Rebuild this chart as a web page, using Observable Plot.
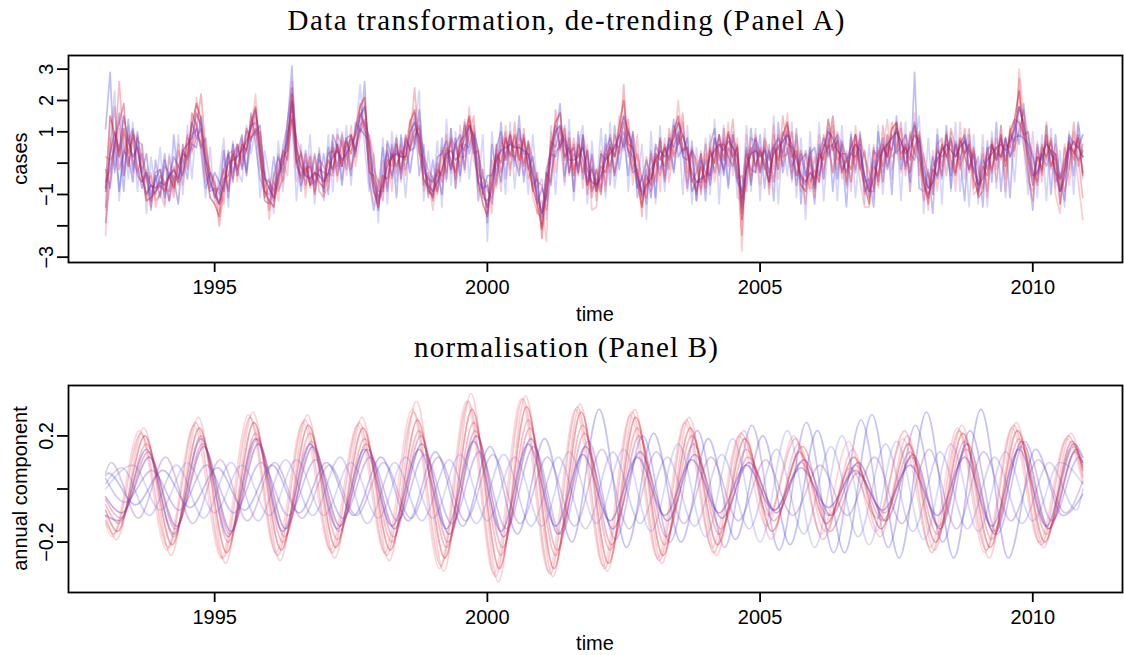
<!DOCTYPE html>
<html><head><meta charset="utf-8">
<script src="https://cdn.jsdelivr.net/npm/d3@7"></script>
<script src="https://cdn.jsdelivr.net/npm/@observablehq/plot@0.6"></script>
<style>
body{margin:0;background:#fff;}
#wrap{position:relative;width:1124px;height:655px;overflow:hidden;background:#fff;}
#wrap > svg, #wrap > div{position:absolute;left:0;}
#overlay{position:absolute;left:0;top:0;pointer-events:none;}
</style>
</head><body>
<div id="wrap"></div>
<script>
// ---------- Panel A: de-trended cases (monthly, from Jan 1993) ----------
const startYear = 1993;
const aR1 = [
-.8,1.5,.9,.2,1.1,.3,.9,.5,-.4,-1.2,-1.1,-.9,
-.7,-.9,-.4,-.8,-.1,.3,.2,1.2,1.9,1.4,-.1,-1.1,
-1.3,-1.7,-.5,-.4,.3,-.2,.6,.4,1.3,1.8,.3,-.9,
-1.2,-1.4,-.3,.2,.4,2.2,.1,-.5,-.1,-.7,-.3,-.6,
-.8,.1,-.2,.6,-.1,.7,.3,1.1,1.8,2.1,.2,-.9,
-1.4,-.4,-.5,.3,-.1,.4,.1,1.3,1.7,.4,-.5,-.8,
-1.1,-.2,-.4,.5,.1,-.3,.7,.9,1.5,.5,-.6,-1.3,
-1.7,-.4,.3,0,.8,.2,.9,.1,.8,-.1,-.8,-1.3,
-2.1,-.6,.5,1.3,1.6,.2,.5,-.4,.6,.1,-.7,-.2,
-.9,-.1,-.3,.5,.2,1.2,2.0,.6,.5,-.6,-1.4,-.4,
-.7,.3,.1,.5,.1,1.0,1.5,.4,.5,-.5,-.9,-.1,
-.6,.4,0,.9,.1,1.0,.2,.5,-1.8,-.1,.5,-.1,
.4,-.1,-.6,.5,.1,.9,1.3,.2,.4,-.7,-.9,.2,
-.8,.3,.1,1.4,.4,.7,-.3,.1,-.2,.9,-.1,-.7,
-1.3,-.1,-.4,.6,.2,1.1,1.3,.3,.5,.1,1.2,.3,
-.7,-1.1,-.2,-.4,.6,.2,.7,-.3,.8,.3,.6,-.5,
-1.0,-.1,-.4,.6,.1,.9,-.1,1.0,1.4,2.3,.9,.1,
-.7,.2,-.2,.9,-.1,.3,-1.3,-.1,.7,.3,.8,-.3];
const aR2 = [
-1.4,.4,1.8,-.2,.3,.9,.1,-.3,.3,-.5,-1.4,-.3,
-.2,-.8,-.9,-.1,-.7,-.3,.8,.6,1.1,2.2,.5,-.4,
-.6,-2.0,-.9,.2,-.5,.5,-.1,1.0,.7,1.5,.9,-.2,
-1.5,-.6,-.9,-.5,1.0,1.4,.8,.3,-.7,0,-.9,.1,
-.1,-.6,.5,-.1,.7,-.2,.9,.4,1.0,1.3,.8,-.2,
-.6,-1.2,.3,-.5,.6,-.3,.7,.5,.9,1.1,.3,-1.1,
-.4,-1.0,.4,-.3,.8,.5,-.1,1.3,.6,1.2,.3,-.4,
-.9,-1.1,-.5,.8,.1,1.0,.2,.9,0,.7,.1,-.6,
-.7,-1.5,-.4,.4,.5,1.1,-.3,.6,-.4,.9,.2,-1.1,
-.2,-.8,.6,-.3,.9,.3,.7,1.4,-.2,.3,-.5,-1.1,
.3,-.6,.7,-.4,.8,.2,.6,1.3,-.3,.4,.1,-1.0,
.3,-.5,.8,.1,.7,-.1,.9,-.5,-.4,-.9,.8,.7,
-.3,.8,.3,-.2,.9,.2,.3,1.0,-.4,.4,-.2,-.8,
.2,-.6,.9,.3,1.2,-.2,.6,-.6,.8,.1,.8,.2,
-.3,-.8,.5,-.1,.9,.2,.4,1.1,-.2,1.0,.3,1.0,
.2,-.4,-1.0,.5,-.1,.9,-.2,.6,-.2,1.1,-.3,.4,
-.2,-.8,.5,-.3,.8,.1,.8,.2,.5,1.0,1.7,.8,
.3,-.7,.6,.1,.8,-.6,-.3,-.9,-.2,1.0,-.1,.6];
const aR3 = [
.2,.1,.4,2.6,.5,-.1,1.0,.7,.6,-.6,-.4,-1.2,
-1.0,-.1,-.3,-1.1,.4,-.3,.9,.4,.8,.7,.1,-.2,
-.9,-.8,-1.3,.3,.4,-.4,.7,.3,1.5,.9,1.0,-.8,
-.5,-1.1,.3,-.6,.3,2.6,.6,-.3,.3,-.8,.2,-.9,
-1.1,-.3,-.4,.9,.6,.1,.9,.3,1.9,1.0,.9,.2,
-1.3,.1,-.8,.5,-.3,.6,-.4,.8,2.4,.3,.2,-.2,
-.5,-.9,-.2,.9,-.3,.6,.2,.2,.9,1.5,-.9,-.6,
-1.6,.1,-.7,.5,1.0,-.4,1.3,-.2,1.1,-.5,-.1,-1.6,
-1.7,-.3,-.6,1.7,.4,1.2,-.4,.8,-.3,.8,-1.0,.2,
-1.2,.4,-.7,.9,-.3,.4,2.5,.2,1.0,.1,-1.7,.2,
-.9,-.4,.8,-.5,1.1,.3,.7,1.6,-.6,.5,-.1,-.8,
.6,-.4,.5,-.3,1.1,.2,1.4,-.3,-2.3,.4,-.4,.9,
-.2,.6,-1.0,.9,-.2,1.5,.4,-.3,.9,-.2,-1.3,.4,
-1.1,.5,-.2,.6,-.3,1.0,.5,-.7,.6,-.2,.9,-1.0,
-.5,.5,-.7,1.2,-.1,1.3,.5,1.3,-.4,.9,.3,.1,
-1.2,-.3,-.8,.6,.8,-.4,1.1,.5,-.1,.3,1.1,-.8,
-.4,.3,-.9,.7,-.2,1.2,-.5,1.1,.4,2.7,.6,-.4,
-1.2,.5,-.4,1.3,-.2,.6,-.9,.5,-.2,1.3,.2,-1.1];
const aR4 = [
-1.9,-.5,.7,1.3,1.9,-.1,.8,-.4,-.6,-.3,-.7,-1.0,
-.4,-.6,-1.2,-.4,-.6,.6,-.2,1.6,1.2,.5,.8,-.5,
-1.1,-.7,-.2,-.9,.2,.6,.1,1.1,.8,1.1,.1,-1.1,
-.7,-1.2,-.6,.4,.1,1.5,0,.3,-.4,.2,-1.0,-.1,
-.6,.3,.4,-.4,.3,.8,-.2,.5,1.2,1.4,-.3,-.4,
-.9,-.9,.1,-.1,.6,-.2,.8,.4,1.1,.9,-.7,-.3,
-1.2,0,-.6,.1,.7,-.5,.6,.4,1.4,.3,.4,-1.1,
-1.2,-.9,.6,-.3,.3,.9,.1,.6,-.1,.6,-.9,-.3,
-2.4,-.8,.7,.5,1.1,.1,.8,-.2,.4,-.3,.4,-.9,
-.5,-1.0,.3,-.1,.6,.5,1.3,.4,-.3,-.2,-1.1,-.8,
-.2,.1,-.4,.6,-.2,1.2,.6,.9,.4,-.6,-.3,.3,
-.8,.5,-.3,.6,.6,.2,-.1,.6,-1.4,.3,-.2,-.3,
.5,-.2,.4,-.6,.6,-.1,1.2,.4,-.4,.1,.3,-.6,
-.2,-.6,.6,.5,1.5,.1,.3,.3,-.6,.6,-.2,.4,
-.9,-.9,.4,-.6,.6,.4,1.3,.1,.6,-.3,.5,.9,
-.5,-1.3,-.1,.2,-.4,.9,.1,-.4,.7,.2,-.2,.5,
-1.1,-.9,.3,-.2,.5,.2,.6,.5,1.4,1.3,.9,1.0,
-.2,-.6,.5,.2,.7,-.3,-.5,-.2,.6,.1,.9,-.4];
const aR5 = [
-2.3,.8,-.2,1.1,-.4,1.2,-.2,.9,.1,-1.1,-.3,-1.4,
-.9,-1.4,.2,-.7,.6,-.7,.6,.3,2.1,.8,-.6,-.3,
-.5,-1.5,.4,-.8,.6,-.6,.8,-.2,1.0,2.2,-.2,-.3,
-1.8,-.3,-1.2,.1,-.4,1.7,-.6,.4,-1.1,.3,-.4,.4,
-1.0,-.8,.6,-.6,1.0,-.4,1.2,-.1,.8,1.9,-.4,-1.3,
-.5,-.8,.6,-.9,.9,-.6,.5,1.4,.6,1.4,-.9,-.4,
-1.5,-.4,.5,-.6,1.1,-.8,1.2,-.3,1.8,.1,-.4,-.5,
-.6,-1.6,.4,-.9,1.2,-.2,.7,.3,-.4,.5,-1.1,-1.6,
-1.2,-2.5,1.2,-.3,.7,-.6,1.0,-.9,.9,-.8,.6,-1.5,
-1.4,.3,-.9,.6,-.4,1.5,.4,1.1,-.7,.9,-1.3,-.5,
-.6,.5,-.9,.8,-.6,.5,2.0,.3,-.9,.3,-1.2,.4,
-.9,.9,-.6,.4,-.3,1.3,-.4,.8,-2.8,.9,-.6,.5,
-.7,.7,-.8,1.2,-.5,.4,1.6,-.6,.7,-.9,-.3,-.9,
-.6,.9,-.5,.8,-.3,.5,-.5,.4,-.9,1.2,-.6,-1.4,
-1.4,.6,-.8,.4,1.4,-.2,.6,-.3,.9,-.9,1.6,-.4,
.3,-1.5,.4,-.9,.7,.1,1.0,-.9,1.3,-.5,.7,-1.0,
-.8,.5,-1.1,.8,-.6,.7,-.9,1.2,.2,3.0,1.4,-.6,
-.9,.7,-.6,.4,.6,-1.0,-1.6,.6,-.7,.5,-.6,-1.8];
const aB1 = [
1.1,2.9,-.3,.6,-.9,1.4,-.3,.8,-.6,-.2,-1.5,.1,
-.8,.3,-1.2,.9,-.6,.2,-.5,.9,1.1,.5,-.8,-.3,
-.7,-1.0,.4,-1.1,.6,-.4,.5,-.3,1.6,.6,-.5,-.9,
-1.0,.2,-.8,.5,1.2,3.1,.2,-.9,.4,-.6,.3,-.5,
.3,-1.0,.7,-.2,.9,.3,-.4,1.3,1.0,2.6,-.6,-1.5,
-.8,.5,-.9,.6,-1.1,.9,-.2,.5,1.6,-.4,.6,-1.0,
.1,-.9,.8,-.5,1.1,-.8,.5,1.2,.3,.8,-1.2,-.2,
-1.9,.6,-.4,1.3,-.5,.9,-.1,1.5,-.6,.7,-.3,-.9,
-1.6,-.3,-.7,.8,1.9,-.4,.6,-.9,1.0,-.5,.4,-.8,
-.2,-.9,.9,-.7,1.2,-.2,.8,-.4,1.0,-1.1,-.4,-1.3,
.4,-1.1,.8,-.6,.3,1.4,.2,.5,-.8,.7,-1.0,.3,
-1.2,.6,1.1,-.4,.8,-.8,.9,.3,-1.6,-.6,1.1,-.3,
.9,-.8,.6,-1.2,1.3,-.3,.5,-.5,1.1,-1.3,.4,-.1,
-1.3,.6,-.5,1.1,-.9,.8,.3,-1.4,.9,-.3,1.0,-.6,
-.5,-1.4,1.0,-.3,.7,-1.0,1.5,-.2,.6,-.6,2.9,-.8,
-.9,-.2,-1.6,.9,-.5,1.2,-.8,.7,.2,-1.2,.9,-.3,
.2,-1.4,.7,-.6,1.3,-.9,.8,-1.1,1.3,.6,1.9,-.2,
-1.5,.6,-.3,1.2,-1.0,.9,-.6,-1.2,.8,-.4,1.3,.2];
const aB2 = [
-.6,-.2,.7,-.9,.4,.2,-.6,1.0,-.3,.3,-1.0,-.5,
-.2,-1.1,-.3,-.5,-1.3,.4,.1,.6,.5,1.5,.3,-.8,
-.3,-.6,-.9,.4,-.3,.3,.9,-.4,.8,1.0,1.2,-.5,
-.6,-.9,-.1,.3,.8,1.9,-.1,-.4,.1,-.7,-.6,.3,
-.9,.5,-.3,.6,-.7,.5,.8,.4,1.1,.9,.7,-.6,
-1.5,-.3,.4,-.4,.4,.2,.6,-.3,.8,1.2,-.3,-.5,
-.6,-.3,-1.0,.4,-.2,.8,-.4,.6,.5,1.0,.4,-1.0,
-.4,-.4,.2,-.6,.8,.3,.2,-.4,.9,-.2,.2,-1.3,
-.8,-1.2,.3,.2,.7,.9,-.3,.3,-.1,.6,-.7,.3,
-.9,.3,.1,.6,-.4,.5,1.0,.4,.2,-.8,-.5,.1,
-.5,.2,-.2,.4,.6,-.3,.9,.3,.8,-.9,-.6,-.6,
.1,-.7,.2,.9,-.4,.5,.2,-.6,-.9,.5,-.7,.6,
-.3,.5,.1,.6,-.2,1.0,.6,.5,-.7,.3,-.4,.3,
.5,-.4,.3,.5,.6,-.5,.7,.1,.3,.2,.6,-.9,
-.7,.1,-.6,.5,.2,.9,.3,.6,.9,.3,.1,.8,
-.1,-.8,.2,-.5,.5,.3,-.4,.6,.1,.8,.4,.2,
-.7,.1,-.2,.5,.3,.2,.8,.2,.8,.9,.8,.6,
.2,-.4,.3,-.1,.4,.3,-.5,.1,.5,.4,.1,.4];
const aB3 = [
-1.5,.7,2.3,-1.2,.9,-.5,1.3,-.9,.6,-1.6,.2,-.9,
.5,-1.3,.3,-.9,.9,-1.0,1.2,-.5,1.3,.3,-1.1,.5,
-1.3,-.4,.8,-1.4,.7,-.2,-.6,1.2,.3,1.1,-1.1,.4,
-.4,-1.6,.7,-.9,.4,1.4,-1.2,.6,-.8,.9,-1.3,.5,
-1.2,.9,-.9,1.1,-.5,1.2,-.7,.9,2.5,.5,-.9,.3,
-1.9,.8,-1.3,1.0,-.6,.8,-1.1,.7,1.1,2.3,-1.2,.4,
-.9,.7,-1.4,1.4,-.7,1.0,-.6,1.4,-.5,.9,-.7,.9,
-2.5,1.0,-.8,.7,-1.0,1.3,-.8,.8,.6,-1.0,.9,-.8,
-.5,-1.8,1.0,-1.0,1.2,-.7,1.4,-1.2,.5,1.2,-1.3,.7,
-.8,1.1,-1.1,1.3,-.8,.3,1.6,-.9,.9,-.8,.6,-1.8,
1.0,-1.3,1.2,-.9,.9,-.2,1.3,-1.0,1.2,-1.3,.5,-.9,
.8,-1.0,1.4,-1.3,1.2,-.7,1.0,-1.1,-1.2,1.2,-.9,1.1,
-1.2,1.1,-.7,1.5,-1.3,.8,-.4,1.3,-1.1,.8,-1.8,1.0,
-.9,1.3,-1.2,.7,1.0,-1.2,1.2,-.8,1.0,-1.1,.6,-1.3,
.6,-1.1,1.2,-1.0,.9,-.5,1.1,-1.2,1.3,-.9,.5,1.5,
-1.6,.8,-1.0,1.1,-1.3,1.0,-.9,1.3,-.9,.7,-1.4,.9,
-1.3,.9,-1.4,1.0,-.8,1.2,-1.1,.8,-.6,1.4,.5,-1.0,
1.0,-1.1,.9,-1.2,1.1,-.8,.4,-1.4,1.0,-1.0,1.2,-.5];
const aB4 = [
-.2,-.8,.5,1.6,-.4,.7,1.1,-.1,-.8,-.3,-1.2,-.4,
-1.1,.1,-.5,.2,-.1,-.4,.3,1.3,.8,1.1,-.3,-.9,
-.8,-1.3,-.2,.3,-.6,.6,-.2,.5,1.2,1.3,.4,-1.2,
-1.3,-.4,.2,-.3,1.3,2.4,.5,-.7,-.2,-.1,-.7,-.2,
-.3,-.4,.9,.5,-.1,.8,.9,.2,1.6,1.2,-.1,-.9,
-1.2,-.9,.7,.1,.8,-.5,.9,.4,.5,1.7,.1,-.9,
-1.0,.2,.3,.7,-.2,.6,.9,-.2,1.2,.8,-.6,-.8,
-.7,-1.3,.5,1.0,.1,.7,.5,1.1,.3,.3,-.7,-.5,
-2.0,-.2,.4,1.2,.5,.8,.3,.5,-.3,.9,-.6,-.1,
-.7,-.5,.4,.8,.2,.9,.5,1.0,.6,-.4,-.9,-.2,
-1.1,.6,.2,-.1,.8,.5,1.0,.2,.1,.4,-1.2,.1,
-.3,-.4,.8,.3,-.2,.9,.5,-.3,-1.3,-.2,.3,.8,
.3,.1,-.6,.5,.8,.3,1.0,-.1,.3,-.5,-.7,.5,
-.7,.3,.8,.2,.6,.9,-.2,.1,.5,.9,.1,-.4,
-1.1,.4,.2,.8,-.2,.5,1.1,.7,-.1,.7,1.3,.4,
-.6,-1.0,-.6,.4,.2,.4,.8,.2,.6,.9,-.2,.3,
-.9,-.3,.4,.6,.1,.8,.1,.9,.7,1.8,1.1,.3,
-.5,.2,.1,.7,.3,.1,-.9,-.3,.9,.6,.5,.9];
const aB5 = [
-.9,.3,1.0,.4,1.5,.7,.2,.5,-.4,-1.0,-.7,-.8,
-.6,-.7,-.4,-.2,-.5,.4,.6,.8,1.6,1.2,.1,-.6,
-1.0,-1.3,-.7,0,.1,.2,.4,.7,1.1,1.7,.6,-.5,
-.8,-1.1,-.4,0,.7,2.0,.5,-.1,-.4,-.5,-.3,-.4,
-.6,-.3,.2,.4,.1,.3,.6,.9,1.5,1.8,.5,-.6,
-1.1,-.7,-.1,.2,.3,.2,.2,1.0,1.3,.8,-.1,-.7,
-.9,-.6,-.2,.3,.4,.1,.3,.8,1.2,.9,-.1,-.9,
-1.4,-.7,.1,.4,.5,.6,.5,.5,.4,.3,-.4,-1.1,
-1.6,-1.0,.3,1.0,1.2,.6,.1,.1,.2,.5,-.2,-.6,
-.7,-.4,.1,.3,.5,.9,1.5,1.0,.4,-.4,-1.0,-.7,
-.5,.1,.4,.2,.5,.8,1.3,.9,.3,-.3,-.6,-.5,
-.4,.2,.4,.6,.4,.7,.5,.2,-1.1,-.2,.3,.4,
.2,.4,-.3,.3,.5,.7,.9,.6,.1,-.4,-.6,-.3,
-.5,.1,.5,1.0,.8,.4,.2,-.3,.3,.6,.4,-.4,
-.9,-.5,.1,.4,.6,.8,1.0,.7,.3,.5,.9,.7,
-.4,-.8,-.6,.1,.4,.6,.4,.2,.5,.7,.3,-.2,
-.7,-.5,.1,.3,.5,.6,.4,.7,1.1,1.8,1.3,.5,
-.4,-.3,.3,.6,.4,-.3,-.9,-.5,.4,.7,.5,.2];

const aSeries = [aB3, aR5, aB1, aR2, aB2, aR3, aB4, aR4, aB5, aR1];
const aColors = ["#6a6af0", "#ee5565", "#4d4de6", "#e0303f", "#5548d8", "#e43c4c", "#6b3fcb", "#c8305a", "#7f2c9e", "#d4202f"];
const aOpac   = [0.28, 0.30, 0.36, 0.36, 0.42, 0.34, 0.42, 0.44, 0.50, 0.50];

// ---------- Panel B: annual component (extremes, alternating, half-year apart) ----------
const endTime = 2010.917;
const bR1 = [-.16,.20,-.21,.23,-.24,.25,-.23,.24,-.22,.23,-.23,.26,-.26,.30,-.30,.31,-.30,.29,-.28,.27,-.25,.23,-.21,.19,-.16,.14,-.13,.12,-.15,.17,-.20,.21,-.22,.22,-.20,.18];
const bR2 = [-.19,.23,-.25,.27,-.28,.29,-.27,.28,-.26,.27,-.27,.33,-.31,.36,-.35,.35,-.33,.32,-.31,.30,-.28,.27,-.25,.22,-.19,.17,-.16,.15,-.18,.20,-.23,.24,-.26,.25,-.22,.21];
const bR3 = [-.13,.17,-.18,.20,-.20,.21,-.20,.21,-.19,.19,-.20,.22,-.22,.25,-.25,.26,-.25,.24,-.23,.23,-.21,.20,-.17,.15,-.12,.10,-.10,.09,-.12,.14,-.17,.18,-.19,.19,-.17,.16];
const bR4 = [-.17,.21,-.22,.25,-.26,.27,-.25,.26,-.24,.25,-.25,.29,-.29,.33,-.33,.34,-.32,.31,-.30,.29,-.27,.26,-.24,.21,-.10,.19,-.19,.08,-.11,.22,-.24,.22,-.23,.24,-.21,.20];
const bR5 = [-.11,.14,-.15,.17,-.17,.19,-.18,.18,-.16,.17,-.18,.20,-.20,.22,-.22,.23,-.23,.21,-.21,.20,-.18,.17,-.15,.12,-.08,.16,-.16,.06,-.09,.12,-.14,.15,-.16,.16,-.15,.14];
const bR6 = [-.18,.22,-.23,.24,-.26,.28,-.24,.25,-.23,.24,-.24,.30,-.30,.33,-.32,.34,-.31,.30,-.29,.28,-.26,.25,-.22,.20,-.14,.20,-.17,.18,-.16,.19,-.22,.23,-.24,.23,-.20,.19];
const bB1 = [.06,-.06,.07,-.07,.08,-.08,.09,-.09,.10,-.10,.12,-.12,.14,-.14,.16,-.17,.19,-.20,.30,-.22,.21,-.20,.19,-.19,.20,-.21,.22,-.24,.28,-.26,.29,-.26,.30,-.26,.15,-.10];
const bB2 = [-.12,.15,-.17,.19,-.18,.19,-.16,.17,-.15,.15,-.14,.15,-.15,.18,-.16,.17,-.14,.13,-.12,.12,-.10,.11,-.09,.09,-.08,.08,-.07,.07,-.08,.09,-.10,.12,-.14,.15,-.14,.17];
const bB3 = [.08,-.10,.09,-.11,.10,-.12,.11,-.10,.12,-.13,.10,-.12,.11,-.13,.13,-.14,.12,-.15,.14,-.13,.12,-.14,.13,-.15,.15,-.17,.16,-.18,.17,-.16,.14,-.15,.12,-.13,.10,-.08];
const bB4 = [.09,-.08,.10,-.09,.09,-.10,.11,-.10,.10,-.11,.12,-.11,.13,-.12,.12,-.14,.14,-.13,.15,-.16,.17,-.18,.19,-.20,.22,-.22,.20,-.21,.18,-.19,.17,-.16,.14,-.12,.10];
const bB5 = [-.05,.07,-.08,.09,-.09,.10,-.10,.11,-.11,.12,-.12,.13,-.13,.14,-.15,.16,-.17,.18,-.19,.20,-.20,.22,-.22,.24,-.23,.25,-.24,.26,-.22,.24,-.20,.22,-.17,.18,-.12,.12];
const bP6 = [.10,-.11,.12,-.13,.11,-.12,.10,-.11,.09,-.10,.10,-.11,.12,-.12,.13,-.13,.12,-.14,.15,-.15,.14,-.13,.12,-.12,.11,-.10,.09,-.10,.12,-.13,.15,-.15,.14,-.12,.11,-.09];
const bP7 = [-.09,.12,-.14,.16,-.16,.17,-.15,.16,-.14,.15,-.15,.17,-.17,.20,-.18,.19,-.17,.16,-.15,.14,-.12,.13,-.11,.10,-.09,.11,-.10,.10,-.12,.13,-.15,.17,-.17,.18,-.15,.15];

const bSeries   = [bB4, bB3, bB5, bP6, bR5, bR2, bB1, bR6, bR3, bB2, bR4, bP7, bR1];
const bFirstExt = [1993.50, 1993.30, 1993.35, 1993.10, 1993.28, 1993.20, 1993.05, 1993.12, 1993.25, 1993.25, 1993.15, 1993.30, 1993.22];
const bStart    = [0, .02, .04, .06, -.04, -.10, .05, -.13, -.06, -.10, -.12, -.03, -.08];
const bEnd      = [.02, 0, .10, .03, .09, .05, -.02, .02, .08, .12, .04, .10, .07];
const bColors   = ["#8080f0", "#7070e8", "#6a4ad8", "#9050b0", "#c03070", "#ee5060", "#5a5ae8", "#f07080", "#e03848", "#6040d0", "#e84858", "#7a30a8", "#d8283c"];
const bOpac     = [0.30, 0.30, 0.32, 0.32, 0.32, 0.27, 0.36, 0.28, 0.32, 0.40, 0.30, 0.40, 0.42];

const xTicks = [1995, 2000, 2005, 2010];
const yTicksA = [-3, -2, -1, 0, 1, 2, 3];
const yLabelsA = [-3, -1, 1, 2, 3];
const yTicksB = [-0.2, 0, 0.2];
const yLabelsB = [-0.2, 0.2];

// ---------- build tables ----------
const dataA = aSeries.map((vals, i) => vals.map((v, m) => ({t: startYear + m / 12, v})));
const dataB = bSeries.map((ext, i) => {
  const pts = [{t: startYear, v: bStart[i]}];
  ext.forEach((v, k) => pts.push({t: bFirstExt[i] + 0.5 * k, v}));
  pts.push({t: endTime, v: bEnd[i]});
  return pts;
});

const fmtNum = d => (d < 0 ? "\u2212" : "") + Math.abs(d);
const sans = "'Liberation Sans', Arial, Helvetica, sans-serif";

function panel({series, colors, opac, width: sw, yDomain, yTicks, yLabels, height, marginTop, marginBottom, curve}) {
  return Plot.plot({
    width: 1124, height, marginLeft: 68, marginRight: 2, marginTop, marginBottom,
    x: {domain: [1992.32, 2011.645]},
    y: {domain: yDomain},
    style: {fontFamily: sans, fontSize: "20px", background: "white", color: "black"},
    marks: [
      ...series.map((d, i) => Plot.line(d, {x: "t", y: "v", stroke: colors[i], strokeOpacity: opac[i], strokeWidth: sw, curve})),
      Plot.frame({stroke: "black", strokeWidth: 1.8}),
      Plot.axisX({ticks: xTicks, tickSize: 10, tickPadding: 7, tickFormat: d => String(d), label: null, fontSize: 20, strokeWidth: 1.8}),
      Plot.axisY({ticks: yTicks, tickSize: 11, tickPadding: 5, tickRotate: -90, tickFormat: d => yLabels.includes(d) ? fmtNum(d) : "", label: null, fontSize: 20, strokeWidth: 1.8})
    ]
  });
}

const wrap = document.getElementById("wrap");
const svgA = panel({series: dataA, colors: aColors, opac: aOpac, width: 1.7, yDomain: [-3.17, 3.435], yTicks: yTicksA, yLabels: yLabelsA, height: 330, marginTop: 55, marginBottom: 68, curve: "linear"});
svgA.style.top = "0px";
wrap.appendChild(svgA);
const svgB = panel({series: dataB, colors: bColors, opac: bOpac, width: 1.6, yDomain: [-0.39, 0.39], yTicks: yTicksB, yLabels: yLabelsB, height: 325, marginTop: 55, marginBottom: 63, curve: "monotone-x"});
svgB.style.top = "330px";
wrap.appendChild(svgB);

// ---------- titles and axis labels ----------
const ns = "http://www.w3.org/2000/svg";
const ov = document.createElementNS(ns, "svg");
ov.setAttribute("id", "overlay");
ov.setAttribute("width", 1124); ov.setAttribute("height", 655);
const texts = [
  {s: "Data transformation, de-trending (Panel A)", x: 566, y: 30, serif: true, len: 557},
  {s: "normalisation (Panel B)", x: 566, y: 357, serif: true, len: 304},
  {s: "time", x: 595, y: 321},
  {s: "time", x: 595, y: 650},
  {s: "cases", x: 27, y: 158.5, rot: true},
  {s: "annual component", x: 27, y: 488.5, rot: true}
];
for (const t of texts) {
  const el = document.createElementNS(ns, "text");
  el.textContent = t.s;
  el.setAttribute("text-anchor", "middle");
  el.setAttribute("fill", "black");
  if (t.serif) {
    el.setAttribute("font-family", "'Liberation Serif', 'Times New Roman', serif");
    el.setAttribute("font-size", 29);
    el.setAttribute("textLength", t.len);
    el.setAttribute("lengthAdjust", "spacing");
  } else {
    el.setAttribute("font-family", sans);
    el.setAttribute("font-size", 20);
  }
  el.setAttribute("transform", `translate(${t.x},${t.y})` + (t.rot ? " rotate(-90)" : ""));
  ov.appendChild(el);
}
wrap.appendChild(ov);
</script>
</body></html>
